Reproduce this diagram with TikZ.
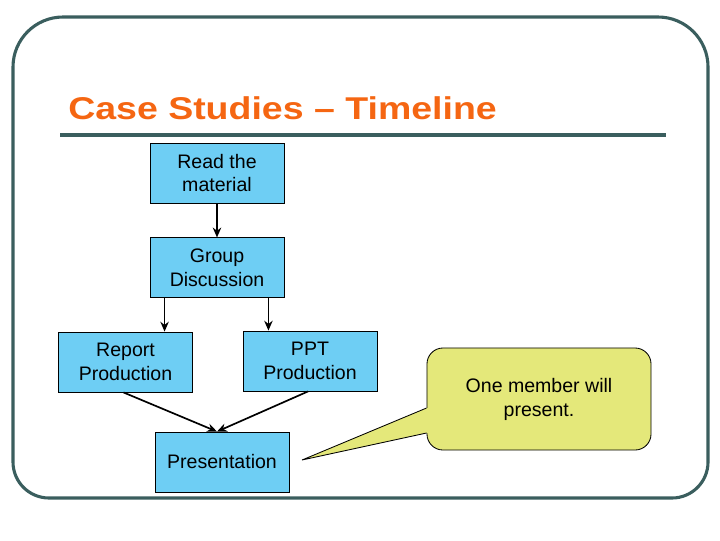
\documentclass[tikz,border=0pt]{standalone}
\usepackage{fontspec}
\setmainfont{Liberation Sans}
\usetikzlibrary{arrows.meta,positioning,calc}
\definecolor{frame}{RGB}{58,94,94}
\definecolor{titleorange}{RGB}{245,102,18}
\definecolor{boxblue}{RGB}{110,206,244}
\definecolor{noteyellow}{RGB}{228,232,122}

\begin{document}
\begin{tikzpicture}[x=0.025cm,y=-0.025cm,
  stage/.style={draw,line width=0.6pt,fill=boxblue,minimum width=3.35cm,minimum height=1.5cm,
    align=center,inner sep=0pt,font=\fontsize{13.9}{17}\selectfont},
  flow/.style={-{Stealth[length=7pt,width=6pt]},line width=1.2pt}]
\useasboundingbox (0,0) rectangle (720,540);
% slide frame and title
\draw[frame,line width=2.2pt] (13,260) [rounded corners=1.25cm] -- (13,17) -- (708,17)
   -- (708,260) [rounded corners=0.9cm] -- (708,498) -- (13,498) -- cycle;
\node[anchor=base west,text=titleorange,inner sep=0pt,
      font=\bfseries\fontsize{22.4}{26}\selectfont] (title) at (68,119)
      {\scalebox{1.19}[1]{Case Studies -- Timeline}};
\draw[frame,line width=2.2pt] (60,135) -- (666,135);
% steps
\node[stage] (read) at (217,173) {Read the\\material};
\node[stage,below=0.85cm of read] (group) {Group\\Discussion};
\node[stage] (report) at (125.5,362) {Report\\Production};
\node[stage] (ppt) at (310,361) {PPT\\Production};
\node[stage] (pres) at (222,462) {Presentation};
\draw[flow] (read) -- (group);
\coordinate (gl) at ($(group.south west)+(15,0)$);
\coordinate (gr) at ($(group.south east)+(-16,0)$);
\draw[flow] (gl) -- (gl |- report.north);
\draw[flow] (gr) -- (gr |- ppt.north);
\coordinate (meet) at ($(pres.north)+(-5,0)$);
\draw[flow] ($(report.south)+(-2,0)$) -- (meet);
\draw[flow] ($(ppt.south)+(-2,0)$) -- (meet);
% callout
\node[draw,line width=0.6pt,fill=noteyellow,rounded corners=0.4cm,minimum width=5.6cm,
      minimum height=2.55cm,align=center,font=\fontsize{13.9}{17}\selectfont] (note)
      at (539,399) {One member will\\present.};
\coordinate (tip) at (302,460);
\coordinate (p1) at ($(note.west)+(0,9)$);
\coordinate (p2) at ($(note.west)+(0,34)$);
\fill[noteyellow] ($(p1)+(3,0)$) -- (p1) -- (tip) -- (p2) -- ($(p2)+(3,0)$) -- cycle;
\draw[line width=0.6pt] (p1) -- (tip) -- (p2);
\end{tikzpicture}
\end{document}
